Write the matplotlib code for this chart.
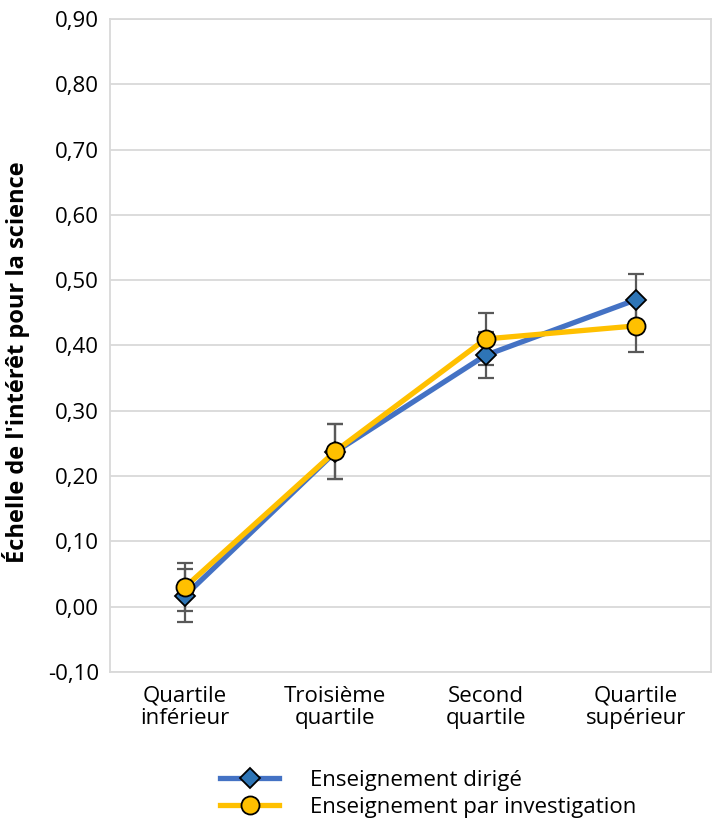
import numpy as np
import matplotlib.pyplot as plt

plt.rcParams['font.family'] = ['Open Sans', 'DejaVu Sans']

categories = ["Quartile\ninférieur", "Troisième\nquartile", "Second\nquartile", "Quartile\nsupérieur"]
dirige = [0.017, 0.237, 0.385, 0.470]
dirige_err = [0.040, 0.042, 0.035, 0.040]
investigation = [0.030, 0.238, 0.410, 0.430]
investigation_err = [0.037, 0.042, 0.040, 0.040]
yticks = np.arange(-0.10, 0.91, 0.10)

fig = plt.figure(figsize=(7.16, 8.21), dpi=100)
ax = fig.add_axes([0.1536, 0.1815, 0.8394, 0.7954])

x = np.arange(len(categories))
grid_c = "#d9d9d9"

ax.errorbar(x, dirige, yerr=dirige_err, fmt="none", ecolor="#595959",
            elinewidth=1.6, capsize=6, capthick=1.6, zorder=3)
ax.errorbar(x, investigation, yerr=investigation_err, fmt="none", ecolor="#595959",
            elinewidth=1.6, capsize=6, capthick=1.6, zorder=3)
ax.plot(x, dirige, color="#4472C4", lw=3.8, marker="D", ms=10,
        mfc="#2E75B6", mec="black", mew=1.3, zorder=4, label="Enseignement dirigé")
ax.plot(x, investigation, color="#FFC000", lw=3.8, marker="o", ms=13,
        mfc="#FFC000", mec="black", mew=1.3, zorder=5, label="Enseignement par investigation")

ax.set_xlim(-0.5, 3.5)
ax.set_ylim(-0.10, 0.90)
ax.set_yticks(yticks)
ax.set_yticklabels([f"{v:.2f}".replace(".", ",") for v in yticks])
ax.set_xticks(x)
ax.set_xticklabels(categories, linespacing=1.1)
ax.tick_params(axis="both", length=0, labelsize=16, pad=8)
ax.tick_params(axis="x", pad=10)
ax.grid(axis="y", color=grid_c, lw=1.3)
ax.set_axisbelow(True)
for s in ax.spines.values():
    s.set_color(grid_c)
    s.set_linewidth(1.3)

ax.set_ylabel("Échelle de l'intérêt pour la science", fontsize=17, fontweight="bold")
ax.yaxis.set_label_coords(-0.133, 0.475)

fig.legend(loc="center left", bbox_to_anchor=(0.292, 0.033), frameon=False, fontsize=16,
           borderpad=0, handlelength=2.65, handletextpad=1.4, labelspacing=0.3)

fig.savefig("out.png", dpi=100)
